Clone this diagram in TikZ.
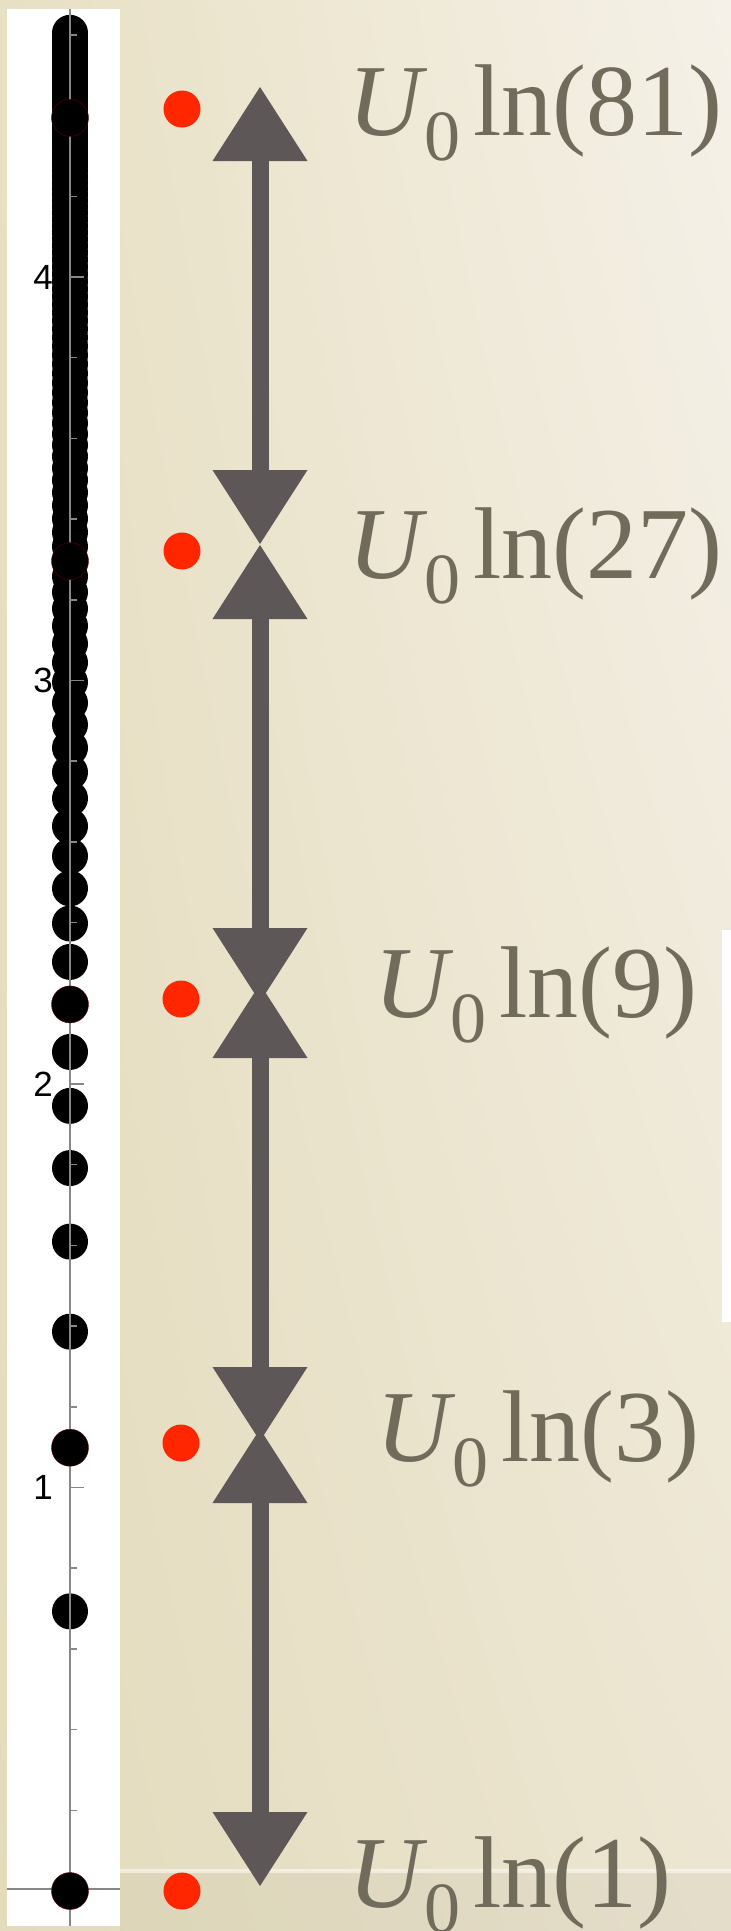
\documentclass[tikz,border=0pt]{standalone}
\usepackage{fontspec}
\setmainfont{Liberation Serif}
\newfontfamily\axisfont{Liberation Sans}
\usetikzlibrary{arrows.meta, positioning, shadings}

\definecolor{chalk}{RGB}{94,87,88}
\definecolor{labelgray}{RGB}{112,107,90}
\definecolor{dotred}{RGB}{255,38,0}
\definecolor{axisgray}{RGB}{135,135,135}
\definecolor{paperUL}{RGB}{232,224,196}
\definecolor{paperUR}{RGB}{245,241,232}
\definecolor{paperLL}{RGB}{227,219,188}
\definecolor{paperLR}{RGB}{236,229,209}

\newcommand{\ulabel}[1]{\textit{U}\kern-0.03em\raisebox{-0.25em}{\fontsize{72}{72}\selectfont 0}\hspace{0.13em}ln(#1)}

\begin{document}
\begin{tikzpicture}[x=1pt, y=-1pt,
    level/.style={circle, fill=dotred, minimum size=37pt, inner sep=0pt},
    state/.style={circle, fill=black, minimum size=36pt, inner sep=0pt},
    energy/.style={anchor=base west, inner sep=0pt, text=labelgray, font=\fontsize{102}{102}\selectfont},
    ticklabel/.style={anchor=east, inner sep=0pt, font=\axisfont\fontsize{35}{35}\selectfont},
    arrow/.style={line width=17pt, draw=chalk, <->, >={Triangle[length=74pt, width=95pt, line width=0pt]}}]

    % paper background
    \useasboundingbox (0,0) rectangle (731,1931);
    \shade[upper left=paperUL, upper right=paperUR, lower left=paperLL, lower right=paperLR] (0,0) rectangle (731,1931);
    \fill[black, opacity=0.03] (120,1871) rectangle (731,1931);
    \draw[white, opacity=0.5, line width=4pt] (120,1871) -- (731,1871);
    \fill[white] (722,930) rectangle (731,1322);

    % plot panel
    \fill[white] (7,9) rectangle (120,1926);
    \foreach \n in {2,...,100}
        \node[state] (s\n) at (70,{1891-403.5*ln(\n)}) {};
    \draw[axisgray, line width=2pt] (70,9) -- (70,1926);
    \draw[axisgray, line width=2pt] (7,1889) -- (120,1889);
    \foreach \k in {1,...,23}
        \draw[axisgray, line width=1.5pt] (70,{1891-80.7*\k}) -- (77,{1891-80.7*\k});
    \foreach \v in {1,2,3,4} {
        \draw[axisgray, line width=1.5pt] (70,{1891-403.5*\v}) -- (84,{1891-403.5*\v});
        \node[ticklabel] (t\v) at (53,{1891-403.5*\v}) {\v};
    }
    \foreach \n in {1,3,9,27,81}
        \node[state, draw=red!40!black, line width=0.4pt, minimum size=37pt] (p\n) at (70,{1891-403.5*ln(\n)}) {};

    % levels
    \node[level] (e81) at (182,109) {};
    \node[level] (e27) at (182,551) {};
    \node[level] (e9) at (181,999) {};
    \node[level] (e3) at (181,1443) {};
    \node[level] (e1) at (182,1891) {};

    \node[energy] (l81) at (348,135) {\ulabel{81}};
    \node[energy] (l27) at (348,578) {\ulabel{27}};
    \node[energy] (l9) at (374,1017) {\ulabel{9}};
    \node[energy] (l3) at (376,1461) {\ulabel{3}};
    \node[energy] (l1) at (348,1907) {\ulabel{1}};

    % spacing arrows
    \coordinate (a1) at (260,87);
    \coordinate (b1) at (260,544);
    \coordinate (a2) at (260,545);
    \coordinate (b2) at (260,1002);
    \coordinate (a3) at (260,984);
    \coordinate (b3) at (260,1441);
    \coordinate (a4) at (260,1429);
    \coordinate (b4) at (260,1886);

    \draw [arrow] (a1) -- (b1);
    \draw [arrow] (a2) -- (b2);
    \draw [arrow] (a3) -- (b3);
    \draw [arrow] (a4) -- (b4);
\end{tikzpicture}
\end{document}
